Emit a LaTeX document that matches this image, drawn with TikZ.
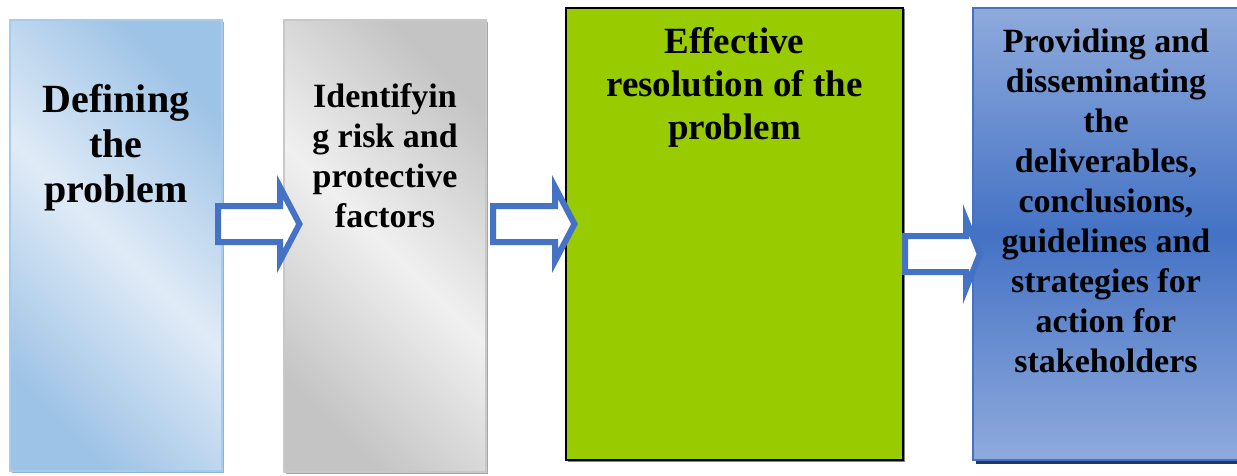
\documentclass[tikz,border=0pt]{standalone}
\usepackage{fontspec}
\setmainfont{Liberation Serif}
\usetikzlibrary{shadows}
\definecolor{bOneDark}{HTML}{9DC3E6}
\definecolor{bOneLight}{HTML}{E0EBF7}
\definecolor{bOneBorder}{HTML}{A9CAEA}
\definecolor{bOneShadow}{HTML}{8DB3E2}
\definecolor{bTwoDark}{HTML}{C4C4C4}
\definecolor{bTwoLight}{HTML}{F0F0F0}
\definecolor{bTwoBorder}{HTML}{C8C8C8}
\definecolor{bTwoShadow}{HTML}{A6A6A6}
\definecolor{bThreeFill}{HTML}{99CC00}
\definecolor{bFourEdge}{HTML}{8FAADC}
\definecolor{bFourMid}{HTML}{4472C4}
\definecolor{bFourShadow}{HTML}{1F3864}
\definecolor{arrowBlue}{HTML}{4472C4}
\begin{document}
\begin{tikzpicture}[x=1pt,y=-1pt,
  every node/.style={inner sep=0pt, outer sep=0pt},
  boxbase/.style={anchor=north west, line width=2pt},
  boxone/.style={boxbase, draw=bOneBorder, top color=bOneDark, bottom color=bOneDark, middle color=bOneLight, shading angle=135,
    general shadow={fill=bOneShadow, shadow xshift=2pt, shadow yshift=-2pt}},
  boxtwo/.style={boxbase, draw=bTwoBorder, top color=bTwoDark, bottom color=bTwoDark, middle color=bTwoLight, shading angle=135,
    general shadow={fill=bTwoShadow, shadow xshift=2pt, shadow yshift=-2pt}},
  boxthree/.style={boxbase, draw=black, fill=bThreeFill,
    general shadow={fill=gray, shadow xshift=1.5pt, shadow yshift=-1.5pt}},
  boxfour/.style={boxbase, draw=bFourMid, top color=bFourEdge, bottom color=bFourEdge, middle color=bFourMid,
    general shadow={fill=bFourShadow, shadow xshift=3pt, shadow yshift=-4pt}},
  label/.style={anchor=north, align=center, text=black},
  blockarrow/.style={draw=arrowBlue, fill=white, line width=6pt, line join=miter}
]
\useasboundingbox (0,0) rectangle (1237,476);

\node[boxone, minimum width=212pt, minimum height=451pt] (b1) at (10,20) {};
\node[boxtwo, minimum width=202pt, minimum height=452pt] (b2) at (284,20) {};
\node[boxthree, minimum width=337pt, minimum height=452pt] (b3) at (566,8) {};
\node[boxfour, minimum width=280pt, minimum height=452pt] (b4) at (973,8) {};

\node[label, font={\fontsize{40}{45}\selectfont\bfseries}] (t1) at (116,84.5) {Defining\\the\\problem};
\node[label, font={\fontsize{34}{40}\selectfont\bfseries}] (t2) at (385,83.5) {Identifyin\\g risk and\\protective\\factors};
\node[label, font={\fontsize{37}{43}\selectfont\bfseries}] (t3) at (734.5,27.5) {Effective\\resolution of the\\problem};
\node[label, font={\fontsize{34}{40}\selectfont\bfseries}] (t4) at (1106,28.5) {Providing and\\disseminating\\the\\deliverables,\\conclusions,\\guidelines and\\strategies for\\action for\\stakeholders};

% block arrows
\draw[blockarrow] (218,206) -- (280,206) -- (280,187) -- (299.5,224) -- (280,261) -- (280,242) -- (218,242) -- cycle;
\draw[blockarrow] (493,206) -- (555,206) -- (555,187) -- (574.5,224) -- (555,261) -- (555,242) -- (493,242) -- cycle;
\draw[blockarrow] (905,236) -- (966,236) -- (966,219.6) -- (979.8,254) -- (966,288.4) -- (966,272) -- (905,272) -- cycle;
\end{tikzpicture}
\end{document}
